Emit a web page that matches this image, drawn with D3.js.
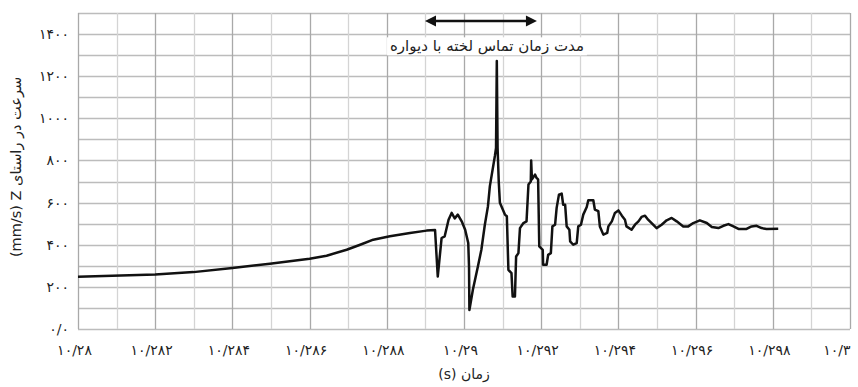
<!DOCTYPE html>
<html>
<head>
<meta charset="utf-8">
<script src="https://cdn.jsdelivr.net/npm/d3@7"></script>
<style>
  html, body { margin: 0; padding: 0; background: #fff; }
  svg { display: block; }
  text { font-family: "DejaVu Sans", sans-serif; fill: #222; }
</style>
</head>
<body>
<svg id="chart" width="858" height="387"></svg>
<script>
// Clot velocity along Z over time (s vs mm/s)
const times = [
  10.28000, 10.28200, 10.28299, 10.28400, 10.28497, 10.28600, 10.28644, 10.28696, 10.28731, 10.28765,
  10.28808, 10.28860, 10.28903, 10.28925, 10.28932,
  10.28942, 10.28950, 10.28960, 10.28968, 10.28976, 10.28984, 10.28994, 10.29003, 10.29011, 10.29013,
  10.29014, 10.29023, 10.29036, 10.29045, 10.29054, 10.29062, 10.29067, 10.29080, 10.29083, 10.29085,
  10.29087, 10.29090, 10.29093, 10.29106, 10.29111, 10.29115, 10.29123, 10.29126, 10.29132, 10.29135,
  10.29141, 10.29145, 10.29154, 10.29162, 10.29167, 10.29173, 10.29174, 10.29176, 10.29184, 10.29188,
  10.29192, 10.29195, 10.29204, 10.29205, 10.29214, 10.29218, 10.29225, 10.29229, 10.29236, 10.29240,
  10.29246, 10.29253, 10.29257, 10.29262, 10.29266, 10.29273, 10.29275, 10.29283, 10.29292, 10.29296,
  10.29303, 10.29309, 10.29318, 10.29322, 10.29335, 10.29339, 10.29348, 10.29352, 10.29361, 10.29371,
  10.29374, 10.29383, 10.29391, 10.29400, 10.29409, 10.29417, 10.29421, 10.29434, 10.29443, 10.29452,
  10.29460, 10.29469, 10.29477, 10.29490, 10.29499, 10.29512, 10.29525, 10.29538, 10.29551, 10.29568,
  10.29581, 10.29594, 10.29611, 10.29629, 10.29642, 10.29659, 10.29672, 10.29685, 10.29698, 10.29711,
  10.29732, 10.29745, 10.29758, 10.29771, 10.29784, 10.29814
];
const velocity = [
  248, 259, 270, 289, 310, 333, 348, 376, 400, 424,
  440, 456, 467, 470, 249,
  432, 440, 519, 551, 525, 543, 511, 471, 408, 297,
  90, 186, 297, 376, 495, 582, 678, 821, 860, 1272,
  860, 700, 599, 543, 535, 281, 265, 154, 154, 344,
  360, 479, 503, 511, 686, 700, 800, 710, 733, 717,
  710, 392, 376, 305, 305, 352, 360, 487, 495, 575,
  638, 643, 590, 590, 487, 471, 416, 400, 408, 487,
  495, 543, 579, 611, 611, 567, 559, 487, 448, 456,
  487, 511, 551, 563, 538, 519, 487, 471, 495, 511,
  532, 538, 519, 495, 479, 495, 516, 527, 511, 487,
  487, 503, 516, 503, 484, 479, 490, 498, 487, 475,
  475, 487, 490, 479, 475, 476
];

// Axis ticks and their Persian labels
const xTicks = [10.28, 10.282, 10.284, 10.286, 10.288, 10.29, 10.292, 10.294, 10.296, 10.298, 10.3];
const xTickLabels = ["۱۰/۲۸", "۱۰/۲۸۲", "۱۰/۲۸۴", "۱۰/۲۸۶", "۱۰/۲۸۸", "۱۰/۲۹", "۱۰/۲۹۲", "۱۰/۲۹۴", "۱۰/۲۹۶", "۱۰/۲۹۸", "۱۰/۳"];
const yTicks = [0, 200, 400, 600, 800, 1000, 1200, 1400];
const yTickLabels = ["۰/۰", "۲۰۰", "۴۰۰", "۶۰۰", "۸۰۰", "۱۰۰۰", "۱۲۰۰", "۱۴۰۰"];

// Contact-duration annotation
const contactStart = 10.28899;
const contactEnd = 10.29189;
const contactLabel = "مدت زمان تماس لخته با دیواره";
const xTitle = "(s) زمان";
const yTitle = "(mm/s) Z سرعت در راستای";

const svg = d3.select("#chart");
const W = 858, H = 387;
const margin = { left: 78, right: 8, top: 13, bottom: 58 };
const plotW = W - margin.left - margin.right;
const plotH = H - margin.top - margin.bottom;

const x = d3.scaleLinear().domain([10.28, 10.3]).range([margin.left, margin.left + plotW]);
const y = d3.scaleLinear().domain([0, 1500]).range([margin.top + plotH, margin.top]);

// Grid: horizontal every 100, vertical every 0.001
const g = svg.append("g");
g.selectAll(".hgrid").data(d3.range(0, 1501, 100)).enter().append("line")
  .attr("x1", x(10.28)).attr("x2", x(10.3))
  .attr("y1", d => Math.round(y(d)) + 0.5).attr("y2", d => Math.round(y(d)) + 0.5)
  .attr("stroke", "#bcbcbc").attr("stroke-width", 1.3);
g.selectAll(".vgrid").data(d3.range(0, 21)).enter().append("line")
  .attr("x1", i => Math.round(x(10.28 + i * 0.001)) + 0.5)
  .attr("x2", i => Math.round(x(10.28 + i * 0.001)) + 0.5)
  .attr("y1", y(0)).attr("y2", y(1500))
  .attr("stroke", i => i % 2 === 0 ? "#a9a9a9" : "#d4d4d4")
  .attr("stroke-width", 1.3);

// Tick labels
const tickFont = 14;
const xAxis = d3.axisBottom(x).tickValues(xTicks).tickSize(0)
  .tickFormat((d, i) => xTickLabels[i]);
const xg = svg.append("g").attr("transform", `translate(0,${y(0)})`).call(xAxis);
xg.select(".domain").remove();
xg.selectAll("text").attr("font-size", tickFont).attr("dy", 0).attr("y", 26)
  .style("font-family", "DejaVu Sans, sans-serif").attr("fill", "#222")
  .attr("dx", -4);
xg.selectAll("text").filter((d, i) => i === xTicks.length - 1)
  .attr("text-anchor", "end").attr("dx", 0);

const yAxis = d3.axisLeft(y).tickValues(yTicks).tickSize(0)
  .tickFormat((d, i) => yTickLabels[i]);
const yg = svg.append("g").attr("transform", `translate(${margin.left},0)`).call(yAxis);
yg.select(".domain").remove();
yg.selectAll("text").attr("font-size", tickFont).attr("x", -9)
  .style("font-family", "DejaVu Sans, sans-serif").attr("fill", "#222");

// Axis titles
svg.append("text").attr("x", x(10.29)).attr("y", 379).attr("text-anchor", "middle")
  .attr("font-size", 14).text(xTitle);
svg.append("text").attr("transform", `translate(21,${(y(0) + y(1500)) / 2 - 4}) rotate(-90)`)
  .attr("text-anchor", "middle").attr("font-size", 14.5).text(yTitle);

// Velocity trace
const pts = times.map((t, i) => [t, velocity[i]]);
svg.append("path").datum(pts)
  .attr("d", d3.line().x(d => x(d[0])).y(d => y(d[1])))
  .attr("fill", "none").attr("stroke", "#111").attr("stroke-width", 2.5)
  .attr("stroke-linejoin", "round");

// Annotation: label on a white box, and a double-headed arrow above it
const labelX = (x(contactStart) + x(contactEnd)) / 2 + 6;
const labelG = svg.append("g");
const labelBox = labelG.append("rect").attr("fill", "#fff");
const label = labelG.append("text").attr("x", labelX).attr("y", y(1318))
  .attr("text-anchor", "middle").attr("font-size", 15).text(contactLabel);
const bb = label.node().getBBox();
labelBox.attr("x", bb.x - 3).attr("y", bb.y).attr("width", bb.width + 6).attr("height", bb.height);

const ay = y(1462);
const ax1 = x(contactStart), ax2 = x(contactEnd);
const headL = 11, headW = 5.5;
svg.append("line").attr("x1", ax1 + headL - 1).attr("x2", ax2 - headL + 1)
  .attr("y1", ay).attr("y2", ay).attr("stroke", "#111").attr("stroke-width", 2.6);
svg.append("path")
  .attr("d", `M${ax1},${ay} L${ax1 + headL},${ay - headW} L${ax1 + headL},${ay + headW} Z`)
  .attr("fill", "#111");
svg.append("path")
  .attr("d", `M${ax2},${ay} L${ax2 - headL},${ay - headW} L${ax2 - headL},${ay + headW} Z`)
  .attr("fill", "#111");
</script>
</body>
</html>
